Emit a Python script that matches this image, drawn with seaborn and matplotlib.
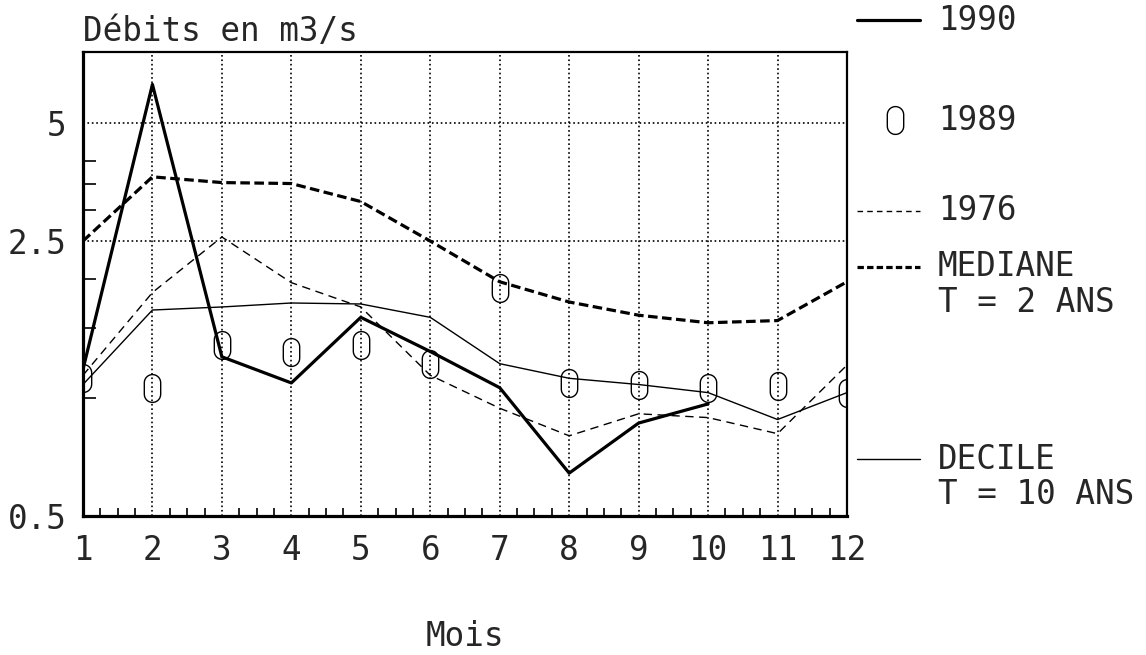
import numpy as np
import seaborn as sns
import matplotlib.pyplot as plt
from matplotlib.path import Path
from matplotlib.ticker import FixedLocator, NullFormatter

# débits mensuels (m3/s)
mois = list(range(1, 13))
debit_1990 = [1.18, 6.25, 1.27, 1.09, 1.60, 1.31, 1.06, 0.643, 0.862, 0.964]
debit_1989 = [1.12, 1.06, 1.36, 1.31, 1.36, 1.22, 1.90, 1.09, 1.08, 1.06, 1.07, 1.03]
debit_1976 = [1.14, 1.85, 2.56, 1.96, 1.70, 1.14, 0.94, 0.80, 0.91, 0.89, 0.81, 1.21]
mediane = [2.50, 3.64, 3.52, 3.50, 3.15, 2.50, 1.97, 1.75, 1.62, 1.55, 1.57, 1.97]
decile = [1.08, 1.67, 1.70, 1.74, 1.73, 1.60, 1.22, 1.12, 1.08, 1.03, 0.88, 1.03]

y_ticks = [0.5, 2.5, 5]
y_tick_labels = ["0.5", "2.5", "5"]
y_minor = [1, 1.5, 2, 3, 3.5, 4]

FS = 23.5

sns.set_style("white")
plt.rcParams['font.family'] = ['DejaVu Sans Mono', 'DejaVu Sans']
plt.rcParams['font.size'] = FS

# marqueur "0" : rectangle aux coins arrondis
t = np.linspace(0, np.pi, 16)
top = np.column_stack([0.5 * np.cos(t), 0.35 + 0.5 * np.sin(t)])
bot = np.column_stack([-0.5 * np.cos(t), -0.35 - 0.5 * np.sin(t)])
verts = np.vstack([top, bot, top[:1]])
zero_marker = Path(verts, closed=True)
MS = 20

fig = plt.figure(figsize=(11.46, 6.55), dpi=100)
ax = fig.add_axes([0.0724, 0.212, 0.6667, 0.7084])

sns.lineplot(x=mois, y=decile, ax=ax, color="black", lw=1.0)
sns.lineplot(x=mois, y=debit_1976, ax=ax, color="black", lw=1.0, linestyle=(0, (6, 4)))
sns.lineplot(x=mois, y=mediane, ax=ax, color="black", lw=2.3, linestyle=(0, (3, 1.4)))
sns.lineplot(x=mois[:len(debit_1990)], y=debit_1990, ax=ax, color="black", lw=2.3)
sns.lineplot(x=mois, y=debit_1989, ax=ax, color="black", linestyle="none",
             marker=zero_marker, markersize=MS, markerfacecolor="none",
             markeredgecolor="black", markeredgewidth=1.0)

ax.set_yscale("log")
ax.set_xlim(1, 12)
ax.set_ylim(0.5, 7.55)
ax.set_xticks(mois)
ax.set_xticklabels([str(m) for m in mois])
ax.xaxis.set_minor_locator(FixedLocator(np.arange(1, 12.01, 0.25)))
ax.yaxis.set_major_locator(FixedLocator(y_ticks))
ax.set_yticklabels(y_tick_labels)
ax.yaxis.set_minor_locator(FixedLocator(y_minor))
ax.yaxis.set_minor_formatter(NullFormatter())

ax.grid(True, which="major", linestyle=":", color="black", lw=1.2)
ax.tick_params(which="major", length=0, pad=12, labelsize=FS)
ax.tick_params(axis="x", which="major", pad=13)
ax.tick_params(axis="y", which="minor", direction="in", length=9.5, width=1.2, color="black", left=True)
ax.tick_params(axis="x", which="minor", direction="in", length=6, width=1.2, color="black", bottom=True)

for side in ["left", "bottom"]:
    ax.spines[side].set_linewidth(2.3)
for side in ["top", "right"]:
    ax.spines[side].set_linewidth(1.6)
for s in ax.spines.values():
    s.set_color("black")

ax.set_title("Débits en m3/s", loc="left", pad=8, fontsize=FS)
ax.set_xlabel("Mois", labelpad=38, fontsize=FS)
ax.set_ylabel("")

# légende à droite
tr = ax.transAxes
lx = [1.013, 1.0955]
tx = 1.119
ax.plot(lx, [1.069, 1.069], transform=tr, clip_on=False, color="black", lw=2.3)
ax.text(tx, 1.069, "1990", transform=tr, va="center", fontsize=FS)
ax.plot([1.063], [0.853], transform=tr, clip_on=False, linestyle="none",
        marker=zero_marker, markersize=MS, markerfacecolor="none",
        markeredgecolor="black", markeredgewidth=1.0)
ax.text(tx, 0.853, "1989", transform=tr, va="center", fontsize=FS)
ax.plot(lx, [0.658, 0.658], transform=tr, clip_on=False, color="black", lw=1.0,
        linestyle=(0, (4, 3)))
ax.text(tx, 0.658, "1976", transform=tr, va="center", fontsize=FS)
ax.plot(lx, [0.537, 0.537], transform=tr, clip_on=False, color="black", lw=2.3,
        linestyle=(0, (2, 1)))
ax.text(tx, 0.537, "MEDIANE", transform=tr, va="center", fontsize=FS)
ax.text(tx, 0.461, "T = 2 ANS", transform=tr, va="center", fontsize=FS)
ax.plot(lx, [0.123, 0.123], transform=tr, clip_on=False, color="black", lw=1.0)
ax.text(tx, 0.123, "DECILE", transform=tr, va="center", fontsize=FS)
ax.text(tx, 0.047, "T = 10 ANS", transform=tr, va="center", fontsize=FS)

plt.savefig("out.png", dpi=100)
